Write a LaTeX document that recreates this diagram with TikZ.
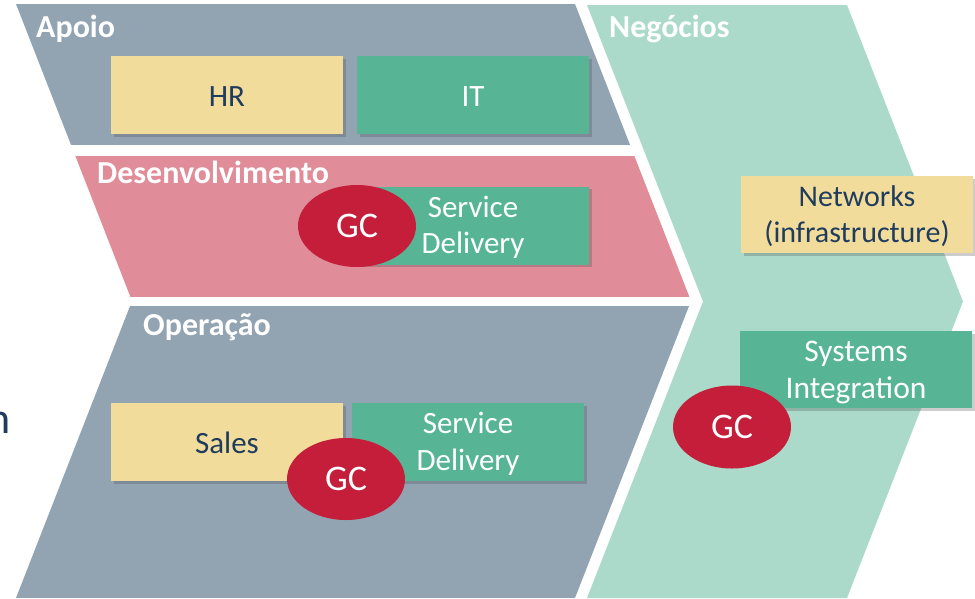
\documentclass[tikz,border=0pt]{standalone}
\usepackage{fontspec}
\setmainfont{Carlito}
\usetikzlibrary{shapes.geometric,shadows}
\definecolor{slate}{RGB}{146,163,178}
\definecolor{pinkband}{RGB}{224,140,153}
\definecolor{mint}{RGB}{171,218,203}
\definecolor{ybox}{RGB}{242,220,155}
\definecolor{gbox}{RGB}{87,181,150}
\definecolor{crim}{RGB}{196,30,58}
\definecolor{navy}{RGB}{31,60,94}
% #1: baseline of the last line below the box centre, #2: lines
\newcommand{\boxtxt}[2]{\raisebox{-#1pt}[0pt][0pt]{\begin{tabular}[b]{@{}c@{}}#2\end{tabular}}}
\tikzset{
  box/.style={rectangle, inner sep=0pt, minimum width=232pt, minimum height=78pt,
    font=\fontsize{31}{36.5}\selectfont,
    drop shadow={shadow xshift=2.5pt, shadow yshift=-2.5pt, opacity=.28, fill=black!70}},
  nettext/.style={font=\fontsize{30}{36.5}\selectfont},
  systext/.style={font=\fontsize{31.5}{37.5}\selectfont},
  yellowbox/.style={box, fill=ybox, text=navy},
  greenbox/.style={box, fill=gbox, text=white},
  gcell/.style={ellipse, fill=crim, text=white, inner sep=0pt,
    minimum width=118pt, minimum height=82pt, font=\fontsize{36}{40}\selectfont},
  bandlabel/.style={anchor=base west, inner sep=0pt, text=white,
    font=\fontsize{32}{37}\selectfont\bfseries}
}
\begin{document}
\begin{tikzpicture}[x=1pt,y=-1pt]
\useasboundingbox (0,0) rectangle (975,598);
% right chevron (Negocios)
\fill[mint] (587,5) -- (847,5) -- (963,301.5) -- (847,598) -- (587,598) -- (703,301.5) -- cycle;
% left chevron split into three bands
\begin{scope}
  \clip (16,4) -- (575,4) -- (691,301) -- (575,598) -- (16,598) -- (132,301) -- cycle;
  \fill[slate] (0,4) rectangle (975,145);
  \fill[pinkband] (0,156) rectangle (975,297);
  \fill[slate] (0,306) rectangle (975,598);
\end{scope}
% band labels
\node[bandlabel] (lapoio) at (36,37) {Apoio};
\node[bandlabel] (ldes) at (97,183) {Desenvolvimento};
\node[bandlabel] (lop) at (143,335) {Operação};
\node[bandlabel] (lneg) at (609,37) {Negócios};
% boxes
\node[yellowbox] (hr) at (227,95) {\boxtxt{11}{HR}};
\node[greenbox] (it) at (473,95) {\boxtxt{11}{IT}};
\node[greenbox] (sd1) at (473,225.5) {\boxtxt{28}{Service\\Delivery}};
\node[gcell] (gc1) at (357,226) {GC};
\node[yellowbox] (sales) at (227,442) {\boxtxt{11}{Sales}};
\node[greenbox] (sd2) at (468,442) {\boxtxt{28}{Service\\Delivery}};
\node[gcell] (gc2) at (346,479) {GC};
\node[yellowbox, nettext, minimum height=77pt] (net) at (857,214.5) {\boxtxt{28}{Networks\\(infrastructure)}};
\node[greenbox, systext, minimum height=77pt] (sys) at (856,369.5) {\boxtxt{29}{Systems\\Integration}};
\node[gcell, minimum height=83pt] (gc3) at (732,427) {GC};
% cut-off text at the left edge
\node[anchor=base east, inner sep=0pt, text=navy, font=\fontsize{44}{50}\selectfont] (frag) at (11,433) {n};
\end{tikzpicture}
\end{document}
